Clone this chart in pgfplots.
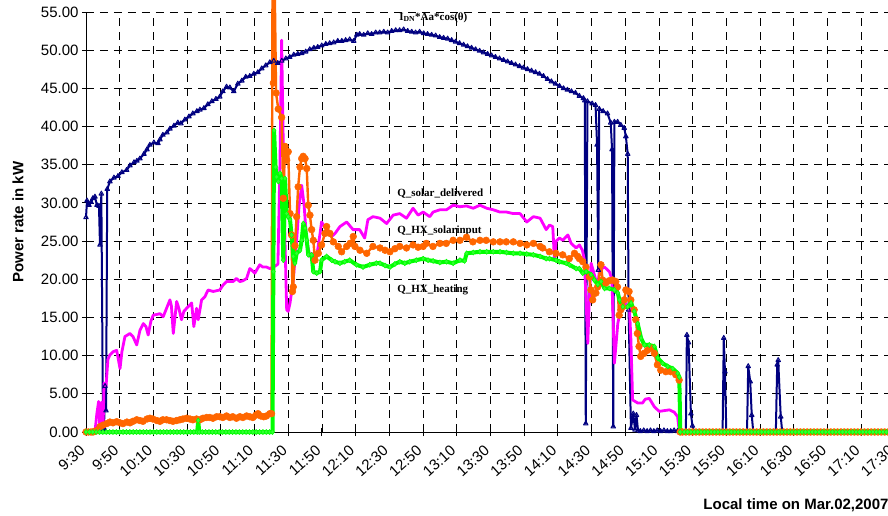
\documentclass[border=0pt]{standalone}
\usepackage{fontspec}
\setmainfont{Liberation Sans}
\newfontfamily\annfont{Liberation Serif}
\usepackage{pgfplots}
\pgfplotsset{compat=1.18}
\definecolor{navyc}{RGB}{0,0,128}
\definecolor{magc}{RGB}{255,0,255}
\definecolor{orc}{RGB}{255,102,0}
\definecolor{grc}{RGB}{0,255,0}
\begin{document}
\begin{tikzpicture}
\begin{axis}[
  scale only axis, width=808.8pt, height=420pt,
  at={(0pt,0pt)}, anchor=south west,
  xmin=0, xmax=480, ymin=0, ymax=55,
  axis lines=left, axis line style={-, black, line width=0.9pt},
  clip=false,
  xtick={0,20,...,480},
  xticklabels={9:30,9:50,10:10,10:30,10:50,11:10,11:30,11:50,12:10,12:30,12:50,13:10,13:30,13:50,14:10,14:30,14:50,15:10,15:30,15:50,16:10,16:30,16:50,17:10,17:30},
  ytick={0,5,...,55},
  /pgf/number format/assume math mode=true,
  y tick label style={/pgf/number format/.cd, fixed, fixed zerofill, precision=2, /tikz/.cd},
  tick label style={font=\fontsize{15}{17}\selectfont},
  xticklabel style={xshift=-1pt, yshift=-10pt, rotate=42, anchor=east},
  grid=major,
  grid style={black, line width=0.8pt, dash pattern=on 8pt off 6pt},
  tick align=center, major tick length=8pt,
  tick style={black, line width=0.9pt},
  ylabel={Power rate in kW},
  every axis y label/.style={at={(axis description cs:-0.084,0.5)}, rotate=90, anchor=center, font=\bfseries\fontsize{15}{17}\selectfont},
  xlabel={Local time on Mar.02,2007},
  every axis x label/.style={at={(axis description cs:0.759,-0.174)}, anchor=west, font=\bfseries\fontsize{15}{17}\selectfont},
]
% I_DN*Aa*cos(theta)
\addplot[navyc, line width=2pt, line join=round, mark=triangle, mark size=2.6pt, mark options={solid, line width=1pt}] coordinates {
(0,28.1)(0.6,30.3)(1.8,29.7)(3.0,30.1)(4.1,30.6)(5.3,30.8)(6.5,29.7)(7.7,29.6)(8.3,24.5)(9.1,31.2)(10.1,0.3)(10.7,0.5)(11.3,6.0)(11.9,2.8)(12.6,31.8)(14.2,32.8)(16.6,33.3)(19.0,33.5)(21.3,34.0)(24.1,34.3)(26.1,34.9)(28.5,35.3)(30.2,35.5)(32.0,35.8)(34.4,36.4)(36.2,37.0)(37.9,37.6)(40.3,37.9)(42.7,37.8)(43.9,38.3)(45.6,38.9)(48.0,39.2)(49.8,39.7)(52.2,40.1)(54.5,40.5)(56.3,40.4)(58.7,40.9)(61.1,41.3)(63.4,41.7)(65.8,42.0)(67.6,42.2)(70.0,42.4)(72.3,42.9)(74.7,43.3)(77.1,43.6)(79.4,43.9)(81.2,44.6)(83.4,45.2)(85.4,45.1)(87.7,44.6)(90.1,45.6)(92.5,46.0)(94.8,46.5)(97.2,46.6)(99.6,46.9)(102.0,47.1)(104.3,47.6)(106.7,48.0)(109.1,48.4)(111.4,48.6)(113.8,48.3)(116.2,48.6)(118.6,48.9)(120.9,49.1)(123.3,49.4)(125.7,49.5)(128.0,49.6)(130.4,49.8)(132.8,50.1)(135.2,50.3)(137.5,50.4)(139.9,50.6)(142.3,50.8)(144.6,50.9)(147.0,51.0)(149.4,51.2)(151.8,51.2)(154.1,51.3)(156.5,51.4)(158.9,51.2)(160.7,52.0)(162.4,52.1)(164.8,52.0)(167.2,52.2)(169.5,52.1)(171.9,52.3)(174.3,52.3)(176.7,52.4)(179.0,52.3)(181.4,52.5)(183.8,52.6)(186.1,52.6)(188.5,52.7)(190.9,52.5)(193.3,52.4)(195.6,52.3)(198.0,52.4)(200.4,52.2)(202.7,52.1)(205.1,52.0)(207.5,51.9)(209.9,51.7)(212.2,51.6)(214.6,51.5)(217.0,51.3)(219.3,51.1)(221.7,50.9)(224.1,50.7)(226.4,50.5)(228.8,50.3)(231.2,50.1)(233.6,49.9)(235.9,49.7)(238.3,49.5)(240.7,49.3)(243.0,49.1)(245.4,48.9)(247.8,48.7)(250.2,48.5)(252.5,48.3)(254.9,48.1)(257.3,47.9)(259.6,47.7)(262.0,47.5)(264.4,47.3)(266.8,47.1)(269.1,46.9)(271.5,46.6)(273.9,46.2)(276.2,45.9)(278.6,45.6)(281.0,45.3)(283.4,45.0)(285.7,44.8)(288.1,44.6)(290.5,44.4)(292.8,44.0)(295.2,43.7)
(296.0,43.4)(296.6,1.1)(297.6,43.3)(300.4,43.0)(302.4,42.8)(303.3,37.6)(304.0,21.2)(304.6,42.3)(306.9,42.0)(309.5,41.7)(311.4,40.5)(312.2,37.0)(312.9,0.7)(313.6,40.6)(315.5,40.6)(317.4,40.2)(319.4,39.8)(320.4,38.7)(321.5,36.4)(322.0,16.0)(323.4,0.5)(324.8,2.4)(325.8,0.3)(326.7,2.2)(327.6,0.2)(329,0.1)(331,0.2)(333,0.1)(335,0.2)(337,0.1)(339,0.2)(341,0.1)(343,0.2)(345,0.1)(347,0.1)(349,0.2)(351,0.1)(353,0)(356.0,0)(356.6,12.7)(357.6,11.7)(359.0,2.4)(359.9,0.8)(360.8,0)(365,0)(370,0)(375,0)(377.8,0)(378.5,12.3)(379.2,7.9)(380.0,0)(385,0)(390,0)(392.3,0)(393.0,8.6)(394.2,6.6)(395.1,2.2)(396.0,0)(400,0)(405,0)(409.4,0)(410.2,8.8)(410.8,9.4)(412.3,2.0)(413.2,0)(420,0)(430,0)(440,0)(450,0)(460,0)(470,0)(480,0)
};
% Q_solar_delivered
\addplot[magc, line width=2.8pt, line join=round] coordinates {
(0,0)(5.3,0)(6.5,2.5)(7.5,4.0)(8.3,0.2)(9.2,3.9)(10.1,0.2)(10.7,6.4)(11.9,6.0)(13.0,9.5)(14.2,10.1)(16.0,10.5)(18.2,10.7)(20.2,8.3)(21.3,10.5)(23.1,12.5)(26.1,12.9)(27.9,12.5)(30.1,11.4)(32.0,13.3)(34.0,14.2)(35.6,13.8)(36.9,12.7)(38.5,14.5)(39.9,15.3)(42.1,15.4)(43.9,15.5)(45.8,15.1)(48.0,16.3)(49.8,17.3)(50.7,16.5)(51.8,12.9)(53.8,17.1)(55.1,16.2)(56.7,14.7)(58.1,15.8)(59.7,16.2)(61.1,16.5)(62.7,16.9)(64.0,13.8)(65.6,16.2)(66.6,14.7)(68.6,17.3)(70.5,17.7)(72.5,18.6)(75.5,18.4)(79.4,18.6)(81.2,19.2)(83.4,19.7)(87.3,19.7)(89.3,20.1)(91.3,19.7)(93.1,19.8)(95.3,20.1)(97.2,21.4)(98.4,21.2)(100.2,20.8)(103.1,21.9)(104.9,21.6)(107.1,21.6)(109.1,21.4)(111.1,21.6)(112.8,21.8)(113.9,22.0)(115.1,35.0)(116.1,51.3)(116.9,40.0)(118.1,25.0)(119.1,16.0)(120.0,15.8)(121.1,16.9)(123.0,19.9)(125.0,25.1)(126.4,29.5)(128.0,32.3)(129.4,29.8)(131.0,25.0)(132.9,23.0)(134.7,23.4)(136.9,23.0)(138.9,26.0)(139.8,27.5)(142.8,26.5)(145.8,25.6)(147.8,26.0)(150.7,26.9)(154.7,27.5)(158.5,26.5)(162.4,26.5)(165.4,25.4)(167.3,27.8)(170.3,28.2)
(174.5,28.0)(178.4,27.3)(182.3,28.4)(186.2,28.6)(190.2,28.0)(194.1,29.3)(197.1,28.4)(200.1,28.8)(204.0,28.2)(206.0,28.8)(210.0,29.1)(213.9,29.1)(217.9,29.7)(221.9,29.5)(225.8,29.6)(229.8,29.3)(233.8,29.7)(237.8,29.3)(241.7,29.1)(245.7,28.8)(249.6,28.8)(253.6,28.6)(257.6,28.6)(261.6,27.5)(265.5,28.2)(269.5,28.0)(273.1,26.5)(275.1,27.1)(277.0,26.9)(278.0,22.6)(279.0,25.0)(281.0,25.4)(283.0,25.1)(285.0,25.6)(286.0,25.8)(287.9,24.7)(290.9,24.1)(292.8,24.5)(294.6,23.8)(295.8,22.5)(297.8,11.6)(298.8,18.2)(299.8,22.1)(301.8,20.5)(303.7,19.0)(304.7,21.2)(307.7,21.6)(310.6,21.0)(312.1,20.0)(313.6,9.0)(315.6,14.2)(317.6,16.4)(319.5,16.9)(322.5,16.4)(323.4,12.0)(324.4,4.2)(327.4,3.8)(330.3,3.8)(331.9,4.3)(334.3,4.4)(337.3,3.3)(340.2,2.7)(343.2,2.8)(346.2,2.9)(349.1,2.6)(351.1,2.0)(352.1,0)(480,0)
};
% Q_HX_solarinput
\addplot[orc, line width=2.4pt, line join=round, mark=*, mark size=3.4pt, mark options={solid, line width=0.5pt}] coordinates {
(0,0)(1.5,0)(3,0)(4.2,0)(5.3,0.1)(6.5,0.2)(8.3,0.7)(10.1,0.9)(12.3,1.1)(14.2,1.3)(16.0,1.2)(18.2,1.35)(20.2,1.2)(21.9,1.1)(24.3,1.3)(26.1,1.2)(27.9,1.4)(30.1,1.6)(32.0,1.5)(33.8,1.4)(36.2,1.7)(37.9,1.8)(39.7,1.7)(42.1,1.5)(43.9,1.4)(45.6,1.6)(47.8,1.6)(49.8,1.5)(51.6,1.4)(53.8,1.5)(55.7,1.6)(57.5,1.7)(59.7,1.8)(61.7,1.7)(63.4,1.6)(65.6,1.7)(67.6,1.6)(69.4,1.8)(71.6,1.9)(73.5,1.9)(75.3,1.8)(77.5,2.0)(79.4,2.0)(81.2,1.9)(83.4,2.1)(85.4,1.9)(87.1,2.0)(89.3,1.8)(91.3,2.0)(93.1,1.9)(95.3,2.1)(97.2,2.0)(99.0,1.9)(100.8,2.2)(102.1,2.4)(103.7,2.1)(105.5,2.0)(107.1,2.1)(109.1,2.4)(110.1,2.4)
(110.7,60)(111.2,45.7)(111.9,60)(112.8,44.4)(114.1,42.3)(116.1,41.2)(117.1,30.6)(118.1,37.4)(119.1,35.6)(120.0,36.7)(121.1,28.6)(122.0,25.8)(122.5,18.4)(123.0,19.0)(124.0,24.4)(125.0,28.2)(125.9,32.1)(127.0,34.7)(128.0,35.8)(128.9,36.1)(130.0,35.8)(131.0,34.5)(131.9,29.7)(132.9,28.4)(133.9,26.5)(134.9,25.1)(135.9,22.5)(137.9,23.4)(139.8,24.5)(141.8,26.0)(142.8,26.9)(144.8,26.0)(146.8,24.9)(149.7,24.3)(151.7,23.6)(154.7,24.3)(156.7,24.7)(158.6,25.6)(159.6,24.3)(162.6,23.8)(166.6,23.4)(170.3,24.3)(174.5,24.1)(177.5,23.8)(180.4,23.6)(183.3,24.0)(186.2,24.3)(190.2,24.1)(194.1,24.5)(197.1,24.2)(200.1,24.3)(202.0,24.7)(205.9,24.3)(210.0,24.7)(213.8,24.7)(217.9,25.1)(221.9,25.1)(225.8,25.5)(229.6,24.9)(233.8,25.1)(237.5,25.1)(241.7,24.9)(245.7,24.9)(249.4,24.9)(253.6,24.9)(257.6,24.7)(261.6,24.5)(265.5,24.7)(269.5,24.3)(271.0,24.1)(275.0,23.6)(278.9,23.4)(282.9,23.2)(286.8,22.7)(289.9,23.4)(291.8,23.0)(292.8,22.7)(294.8,22.3)(296.7,21.6)(298.7,20.3)(299.7,18.6)(300.7,17.3)(302.6,18.2)(303.6,19.0)(305.6,21.9)(306.6,19.9)(308.5,19.5)(310.5,19.8)(312.5,19.9)(314.4,19.7)(315.4,19.0)(316.4,15.3)(317.4,16.0)(318.4,16.4)(319.4,17.3)(320.4,18.6)(322.3,18.4)(323.3,17.3)(325.3,16.0)(326.3,14.7)(327.2,12.9)(328.2,11.2)(329.2,9.9)(331.2,10.3)(333.2,10.7)(335.2,11.0)(337.3,10.3)(339.1,8.8)(341.1,8.1)(344.1,7.9)(347.0,7.9)(350.0,7.5)(352.0,6.8)
(352.6,0)(354,0)(356,0)(358,0)(360,0)(362,0)(364,0)(366,0)(368,0)(370,0)(372,0)(374,0)(376,0)(378,0)(380,0)(382,0)(384,0)(386,0)(388,0)(390,0)(392,0)(394,0)(396,0)(398,0)(400,0)(402,0)(404,0)(406,0)(408,0)(410,0)(412,0)(414,0)(416,0)(418,0)(420,0)(422,0)(424,0)(426,0)(428,0)(430,0)(432,0)(434,0)(436,0)(438,0)(440,0)(442,0)(444,0)(446,0)(448,0)(450,0)(452,0)(454,0)(456,0)(458,0)(460,0)(462,0)(464,0)(466,0)(468,0)(470,0)(472,0)(474,0)(476,0)(478,0)(480,0)
};
% Q_HX_heating
\addplot[grc, line width=4pt, line join=round, mark=diamond*, mark size=2.6pt, mark options={solid, line width=0.5pt, draw=grc, fill=grc!80!white}] coordinates {
(0,0)(2,0)(4,0)(6,0)(8,0)(10,0)(12,0)(14,0)(16,0)(18,0)(20,0)(22,0)(24,0)(26,0)(28,0)(30,0)(32,0)(34,0)(36,0)(38,0)(40,0)(42,0)(44,0)(46,0)(48,0)(50,0)(52,0)(54,0)(56,0)(58,0)(60,0)(62,0)(64,0)(66,0)(66.6,1.5)(67.2,0)(69,0)(71,0)(73,0)(75,0)(77,0)(79,0)(81,0)(83,0)(85,0)(87,0)(89,0)(91,0)(93,0)(95,0)(97,0)(99,0)(101,0)(103,0)(105,0)(107,0)(109,0)(110.7,0)
(111.2,21.0)(111.6,39.5)(112.5,34.7)(113.1,33.4)(114.1,32.8)(115.1,33.9)(116.1,33.2)(117.1,22.5)(118.1,33.2)(119.1,28.6)(120.0,28.2)(121.1,27.8)(122.0,25.8)(123.0,23.0)(124.0,22.1)(125.0,23.4)(127.0,23.8)(128.0,25.1)(129.0,27.3)(130.0,26.7)(131.0,25.1)(131.9,23.2)(133.9,23.2)(134.9,21.0)(136.9,20.8)(138.9,21.0)(139.8,22.5)(142.8,23.0)(145.8,22.5)(147.8,22.3)(150.7,22.1)(153.5,22.3)(156.5,22.5)(160.5,21.9)(164.4,21.6)(168.4,21.9)(172.3,22.1)(174.5,22.1)(177.5,21.8)(180.4,21.6)(183.3,22.0)(186.2,22.3)(189.2,22.1)(192.1,22.3)(196.0,22.5)(200.1,22.7)(203.0,22.5)(206.0,22.4)(210.0,22.2)(213.9,22.3)(217.9,22.1)(221.9,22.5)(224.7,22.4)(225.9,23.4)(229.8,23.5)(233.8,23.6)(237.8,23.6)(241.7,23.6)(245.7,23.6)(249.6,23.5)(253.6,23.4)(257.6,23.4)(261.6,23.3)(265.5,23.2)(269.5,23.0)(273.1,22.7)(275.1,22.7)(279.0,22.5)(281.0,22.3)(285.0,22.1)(286.9,21.9)(290.9,21.4)(292.8,21.4)(294.8,20.8)(296.8,21.0)(299.8,20.6)(301.7,19.9)(303.7,19.3)(305.7,19.7)(307.7,18.8)(310.6,18.8)(313.6,18.6)(315.6,18.2)(316.6,17.3)(318.6,16.4)(321.5,16.4)(323.5,16.9)(325.4,15.8)(327.4,14.2)(329.4,12.3)(331.4,11.4)(334.3,11.4)(337.3,11.2)(339.3,9.7)(342.2,9.0)(345.2,8.6)(348.2,8.3)(351.1,7.7)(352.1,7.2)
(352.7,0)(355,0)(357,0)(359,0)(361,0)(363,0)(365,0)(367,0)(369,0)(371,0)(373,0)(375,0)(377,0)(379,0)(381,0)(383,0)(385,0)(387,0)(389,0)(391,0)(393,0)(395,0)(397,0)(399,0)(401,0)(403,0)(405,0)(407,0)(409,0)(411,0)(413,0)(415,0)(417,0)(419,0)(421,0)(423,0)(425,0)(427,0)(429,0)(431,0)(433,0)(435,0)(437,0)(439,0)(441,0)(443,0)(445,0)(447,0)(449,0)(451,0)(453,0)(455,0)(457,0)(459,0)(461,0)(463,0)(465,0)(467,0)(469,0)(471,0)(473,0)(475,0)(477,0)(480,0)
};
\node[anchor=west, inner sep=0pt, font=\annfont\bfseries\fontsize{11}{13}\selectfont] at (axis cs:185.8,54.3) {I\textsubscript{DN}*Aa*cos(θ)};
\node[anchor=west, inner sep=0pt, font=\annfont\bfseries\fontsize{11}{13}\selectfont] at (axis cs:184.6,31.2) {Q\_solar\_delivered};
\node[anchor=west, inner sep=0pt, font=\annfont\bfseries\fontsize{11}{13}\selectfont] at (axis cs:184.6,26.4) {Q\_HX\_solarinput};
\node[anchor=west, inner sep=0pt, font=\annfont\bfseries\fontsize{11}{13}\selectfont] at (axis cs:184.6,18.6) {Q\_HX\_heating};
\end{axis}
\pgfresetboundingbox
\path[use as bounding box] (-86pt,-84pt) rectangle (802pt,432pt);
\end{tikzpicture}
\end{document}
